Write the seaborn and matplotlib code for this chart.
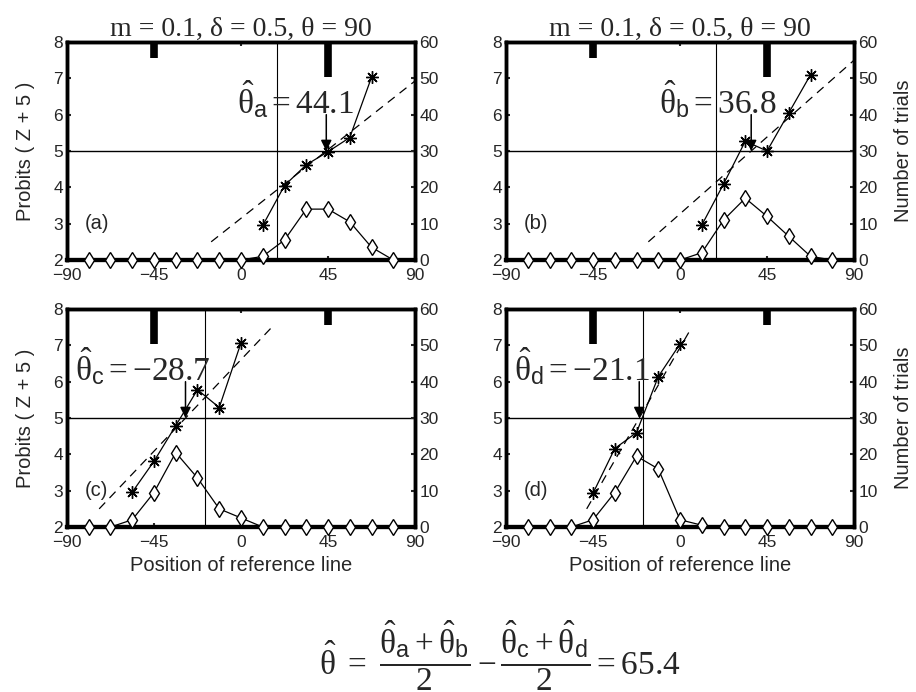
from decimal import Decimal, ROUND_HALF_UP

import numpy as np
import pandas as pd
import matplotlib
matplotlib.use("Agg")
import matplotlib.pyplot as plt
import seaborn as sns

# Bin centres of the reference-line position (deg)
positions = [-78.75, -67.5, -56.25, -45.0, -33.75, -22.5, -11.25, 0.0,
             11.25, 22.5, 33.75, 45.0, 56.25, 67.5, 78.75]

# Number of trials per bin (right axis)
counts_a = [0, 0, 0, 0, 0, 0, 0, 0, 1, 5.5, 14, 14, 10.5, 3.5, 0]
counts_b = [0, 0, 0, 0, 0, 0, 0, 0, 2, 11, 17, 12, 6.5, 1, 0]
counts_c = [0, 0, 2, 9.5, 20.5, 13.5, 5, 2.5, 0, 0, 0, 0, 0, 0, 0]
counts_d = [0, 0, 0, 2, 9.5, 19.5, 16, 2, 0.5, 0, 0, 0, 0, 0, 0]

# Probit values (left axis)
probit_x_a = [11.25, 22.5, 33.75, 45.0, 56.25, 67.5]
probit_a = [2.95, 4.05, 4.62, 4.98, 5.37, 7.03]
probit_x_b = [11.25, 22.5, 33.75, 45.0, 56.25, 67.5]
probit_b = [2.96, 4.09, 5.27, 5.0, 6.05, 7.1]
probit_x_c = [-56.25, -45.0, -33.75, -22.5, -11.25, 0.0]
probit_c = [2.96, 3.81, 4.79, 5.78, 5.29, 7.07]
probit_x_d = [-45.0, -33.75, -22.5, -11.25, 0.0]
probit_d = [2.93, 4.16, 4.6, 6.14, 7.04]

# Fitted probit lines: 50% point and slope (probit per degree)
theta_hat = [44.1, 36.8, -28.7, -21.1]
fit_slope = [0.042, 0.047, 0.056, 0.092]

panel_names = ["a", "b", "c", "d"]
x_ticks = [-90, -45, 0, 45, 90]
probit_ticks = [2, 3, 4, 5, 6, 7, 8]
count_ticks = [0, 10, 20, 30, 40, 50, 60]
marker_pos = [-45, 45]
marker_len = [[0.45, 0.95], [0.45, 0.95], [0.95, 0.45], [0.95, 0.45]]
ref_line = [18.6, 18.6, -18.6, -19.2]

sns.set_theme(style="white")
plt.rcParams["font.family"] = ["Liberation Sans", "DejaVu Sans"]
plt.rcParams["mathtext.fontset"] = "custom"
plt.rcParams["mathtext.rm"] = "Liberation Serif"
plt.rcParams["mathtext.it"] = "Liberation Serif:italic"
plt.rcParams["mathtext.sf"] = "Liberation Sans"
plt.rcParams["mathtext.fallback"] = "stix"

fig = plt.figure(figsize=(9.16, 6.92), dpi=100)
boxes = [[0.0731, 0.6243, 0.380, 0.3150],
         [0.5524, 0.6243, 0.380, 0.3150],
         [0.0731, 0.2384, 0.380, 0.3150],
         [0.5524, 0.2384, 0.380, 0.3150]]
label_x = [-2, -11, -86, -86]

counts_all = [counts_a, counts_b, counts_c, counts_d]
px_all = [probit_x_a, probit_x_b, probit_x_c, probit_x_d]
py_all = [probit_a, probit_b, probit_c, probit_d]

tick_fs = 12.5
lab_fs = 14.5
TH = r"\hat{\mathrm{\theta}}"

for i, name in enumerate(panel_names):
    ax = fig.add_axes(boxes[i])
    ax2 = ax.twinx()

    # trial counts (open diamonds)
    df_c = pd.DataFrame({"pos": positions, "n": counts_all[i]})
    sns.lineplot(data=df_c, x="pos", y="n", ax=ax2, color="black", lw=0.9,
                 marker="d", markersize=8.5, markerfacecolor="white",
                 markeredgecolor="black", markeredgewidth=1.0, clip_on=False,
                 zorder=3)

    # reference lines
    ax.axhline(5, color="black", lw=1.0, zorder=1)
    ax.axvline(ref_line[i], color="black", lw=0.8, zorder=1)

    # fitted probit line (dashed)
    th, s = theta_hat[i], fit_slope[i]
    x0 = max(-90, th + (2.5 - 5) / s)
    x1 = min(90, th + (7.5 - 5) / s)
    xf = np.array([x0, x1])
    df_f = pd.DataFrame({"pos": xf, "p": 5 + s * (xf - th)})
    sns.lineplot(data=df_f, x="pos", y="p", ax=ax, color="black", lw=0.9,
                 linestyle=(0, (7, 5)), zorder=2)

    # probits (asterisks)
    df_p = pd.DataFrame({"pos": px_all[i], "p": py_all[i]})
    sns.lineplot(data=df_p, x="pos", y="p", ax=ax, color="black", lw=0.9,
                 marker=(8, 2, 0), markersize=9, markeredgewidth=1.0,
                 markeredgecolor="black", zorder=4)

    # position markers along the top
    for mp, ml in zip(marker_pos, marker_len[i]):
        ax.plot([mp, mp], [8, 8 - ml], color="black", lw=5.5,
                solid_capstyle="butt", zorder=5)

    # estimated point of subjective equality
    ax.annotate("", xy=(th, 5.0), xytext=(th, 6.0),
                arrowprops=dict(arrowstyle="-|>", color="black", lw=1.1,
                                mutation_scale=16, shrinkA=0, shrinkB=0),
                zorder=6)
    ax.text(label_x[i], 6.42,
            r"$%s_{\mathsf{%s}} = %.1f$" % (TH, name, th),
            ha="left", va="center", fontsize=24, zorder=7)
    ax.text(-81, 3.0, "(%s)" % name, ha="left", va="center", fontsize=14.5)

    ax.set_xlim(-90, 90)
    ax.set_ylim(2, 8)
    ax2.set_ylim(0, 60)
    ax.set_xticks(x_ticks)
    ax.set_xticklabels(["\u221290", "\u221245", "0", "45", "90"])
    ax.set_yticks(probit_ticks)
    ax2.set_yticks(count_ticks)
    ax.tick_params(axis="both", direction="in", length=3, width=1.5,
                   labelsize=tick_fs, top=True, bottom=True,
                   left=True, right=False)
    ax.tick_params(axis="x", pad=6)
    ax.tick_params(axis="y", pad=3)
    ax2.tick_params(axis="y", direction="in", length=3, width=1.5,
                    labelsize=tick_fs, pad=3)
    ax.set_xlabel("")
    ax.set_ylabel("")
    ax2.set_ylabel("")
    for a in (ax, ax2):
        for sp in a.spines.values():
            sp.set_visible(True)
            sp.set_color("black")
            sp.set_linewidth(2.5)
        a.spines["bottom"].set_linewidth(3.0)

    if i < 2:
        ax.set_title("m = 0.1, \u03b4 = 0.5, \u03b8 = 90", family="Liberation Serif",
                     fontsize=20, pad=3)
    if i % 2 == 0:
        ax.set_ylabel("Probits ( Z + 5 )", fontsize=lab_fs, labelpad=13)
    else:
        ax2.set_ylabel("Number of trials", fontsize=lab_fs, labelpad=12)
    if i >= 2:
        ax.set_xlabel("Position of reference line", fontsize=lab_fs, labelpad=4)

total = (theta_hat[0] + theta_hat[1]) / 2 - (theta_hat[2] + theta_hat[3]) / 2
total_txt = Decimal(str(round(total, 4))).quantize(Decimal("0.1"), rounding=ROUND_HALF_UP)
formula = (r"$%s\ =\ \dfrac{%s_{\mathsf{a}}+%s_{\mathsf{b}}}{2}"
           r" - \dfrac{%s_{\mathsf{c}}+%s_{\mathsf{d}}}{2} = %s$"
           % (TH, TH, TH, TH, TH, total_txt))
fig.text(0.546, 0.053, formula, ha="center", va="center", fontsize=24)

fig.savefig("out.png", dpi=100)
